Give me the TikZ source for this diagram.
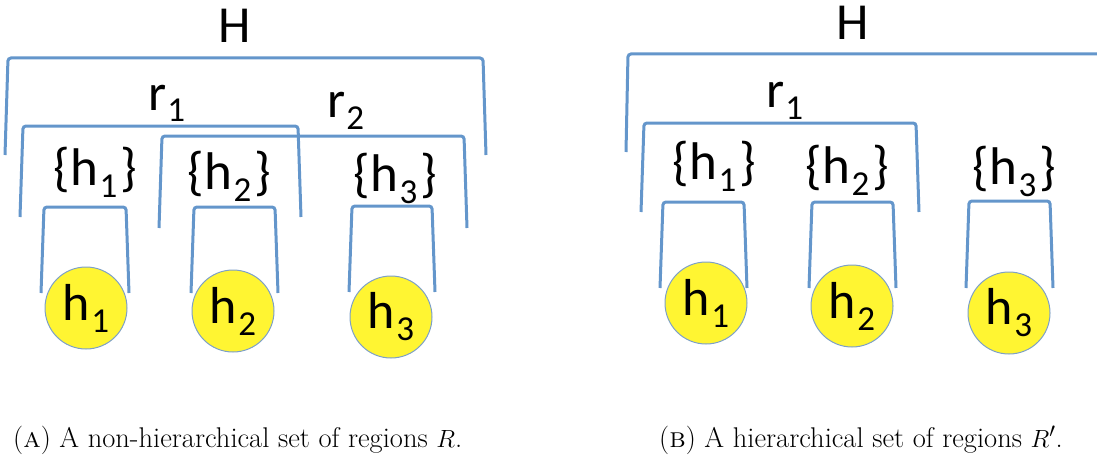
\documentclass[tikz,border=0pt]{standalone}
\usepackage{fontspec}
\newfontfamily\labfont{Carlito}
\definecolor{brblue}{RGB}{100,150,203}
\definecolor{hyel}{RGB}{255,245,50}
\definecolor{cedge}{RGB}{125,160,200}
% label with subscript (H, r, h in circles)
\newcommand{\lab}[2]{{\labfont\fontsize{52}{56}\selectfont #1\kern1pt\raisebox{-12pt}{\fontsize{35}{40}\selectfont #2}}}
\newcommand{\labH}[1]{{\labfont\fontsize{52}{56}\selectfont #1}}
% set label {h_i}
\newcommand{\slab}[2]{{\labfont\fontsize{53}{58}\selectfont\{\kern1pt #1\kern1pt\raisebox{-12pt}{\fontsize{35}{40}\selectfont #2}\kern3pt\}}}
\newcommand{\brk}[4]{\draw[br] (#1-2,#4) -- (#1+1,#3) -- (#2-1,#3) -- (#2+2,#4);}
\tikzset{
  br/.style={draw=brblue, line width=3pt, rounded corners=3pt},
  hnode/.style={circle, fill=hyel, draw=cedge, line width=1pt, minimum size=82pt, inner sep=0pt},
  txt/.style={inner sep=0pt, anchor=base west},
  captxt/.style={inner sep=0pt, anchor=base west, font=\fontsize{28.5}{32}\selectfont}
}
\begin{document}
\begin{tikzpicture}[x=1pt,y=-1pt]
\useasboundingbox (0,0) rectangle (1097,460);
% ---------------- left panel ----------------
\node[txt, anchor=base] (HA) at (235,43) {\labH{H}};
\brk{7}{484}{58}{155}
\node[txt] (r1A) at (148,110) {\lab{r}{1}};
\brk{22}{299}{126}{217}
\node[txt] (r2A) at (327,117) {\lab{r}{2}};
\brk{161}{465}{136}{228}
\node[txt] (s1A) at (53,185) {\slab{h}{1}};
\node[txt] (s2A) at (187,189) {\slab{h}{2}};
\node[txt] (s3A) at (353,191) {\slab{h}{3}};
\brk{43}{127}{207}{293}
\brk{193}{276}{207}{293}
\brk{351}{433}{206}{292}
\node[hnode] (h1A) at (86,308) {\lab{h}{1}};
\node[hnode] (h2A) at (233,311) {\lab{h}{2}};
\node[hnode] (h3A) at (391,317) {\lab{h}{3}};
% ---------------- right panel ----------------
\node[txt, anchor=base] (HB) at (853,40) {\labH{H}};
\draw[br] (626,152) -- (628,54) -- (1100,54);
\node[txt] (r1B) at (766,107) {\lab{r}{1}};
\brk{643}{917}{123}{212}
\node[txt] (s1B) at (672,179) {\slab{h}{1}};
\node[txt] (s2B) at (805,183) {\slab{h}{2}};
\node[txt] (s3B) at (972,184) {\slab{h}{3}};
\brk{662}{745}{202}{288}
\brk{811}{894}{202}{288}
\brk{968}{1051}{201}{288}
\node[hnode] (h1B) at (706,303) {\lab{h}{1}};
\node[hnode] (h2B) at (852,306) {\lab{h}{2}};
\node[hnode] (h3B) at (1009,313) {\lab{h}{3}};
% ---------------- captions ----------------
\node[captxt] (capA) at (13,447) {(\textsc{a}) A non-hierarchical set of regions $R$.};
\node[captxt] (capB) at (659,447) {(\textsc{b}) A hierarchical set of regions $R'$.};
\end{tikzpicture}
\end{document}
